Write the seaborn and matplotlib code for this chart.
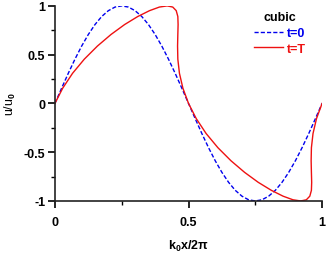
import numpy as np
import pandas as pd
import matplotlib
matplotlib.use("Agg")
import matplotlib.pyplot as plt
import seaborn as sns
from matplotlib.ticker import MultipleLocator

# initial profile t=0
x_t0 = [0, 0.025, 0.05, 0.075, 0.1, 0.125, 0.15, 0.175, 0.2, 0.225, 0.25,
        0.275, 0.3, 0.325, 0.35, 0.375, 0.4, 0.425, 0.45, 0.475, 0.5,
        0.525, 0.55, 0.575, 0.6, 0.625, 0.65, 0.675, 0.7, 0.725, 0.75,
        0.775, 0.8, 0.825, 0.85, 0.875, 0.9, 0.925, 0.95, 0.975, 1.0]
u_t0 = [0, 0.156, 0.309, 0.454, 0.588, 0.707, 0.809, 0.891, 0.951, 0.988, 1.0,
        0.988, 0.951, 0.891, 0.809, 0.707, 0.588, 0.454, 0.309, 0.156, 0,
        -0.156, -0.309, -0.454, -0.588, -0.707, -0.809, -0.891, -0.951, -0.988, -1.0,
        -0.988, -0.951, -0.891, -0.809, -0.707, -0.588, -0.454, -0.309, -0.156, 0]

# steepened (overturned) profile t=T
x_tT = [0, 0.029, 0.066, 0.110, 0.159, 0.210, 0.261, 0.310, 0.354, 0.391, 0.420,
        0.441, 0.454, 0.460, 0.461, 0.460, 0.459, 0.460, 0.466, 0.479, 0.500,
        0.529, 0.566, 0.610, 0.659, 0.710, 0.761, 0.810, 0.854, 0.891, 0.920,
        0.941, 0.954, 0.960, 0.961, 0.960, 0.959, 0.960, 0.966, 0.979, 1.0]
u_tT = u_t0

x_ticks = [0, 0.5, 1]
x_tick_labels = ["0", "0.5", "1"]
y_ticks = [-1, -0.5, 0, 0.5, 1]
y_tick_labels = ["-1", "-0.5", "0", "0.5", "1"]

df0 = pd.DataFrame({"x": x_t0, "u": u_t0})
dfT = pd.DataFrame({"x": x_tT, "u": u_tT})

plt.rcParams["font.family"] = ["Liberation Sans", "DejaVu Sans"]
plt.rcParams["font.weight"] = "bold"
plt.rcParams["mathtext.fontset"] = "custom"
plt.rcParams["mathtext.rm"] = "Liberation Sans:bold"
plt.rcParams["mathtext.it"] = "Liberation Sans:bold"
plt.rcParams["mathtext.bf"] = "Liberation Sans:bold"
plt.rcParams["mathtext.default"] = "rm"

fig = plt.figure(figsize=(3.27, 2.55), dpi=100)
ax = fig.add_axes([0.168, 0.208, 0.817, 0.765])

sns.lineplot(data=df0, x="x", y="u", sort=False, estimator=None, ax=ax,
             color="#0000ee", linestyle=(0, (3, 1.5)), linewidth=1.0, label="t=0")
sns.lineplot(data=dfT, x="x", y="u", sort=False, estimator=None, ax=ax,
             color="#ee1111", linewidth=1.0, label="t=T")

ax.set_xlim(0, 1)
ax.set_ylim(-1, 1)
ax.set_xticks(x_ticks)
ax.set_xticklabels(x_tick_labels, fontsize=9, fontweight="bold")
ax.set_yticks(y_ticks)
ax.set_yticklabels(y_tick_labels, fontsize=9, fontweight="bold")
ax.xaxis.set_minor_locator(MultipleLocator(0.25))
ax.yaxis.set_minor_locator(MultipleLocator(0.25))
ax.tick_params(which="major", length=5, width=1.2, pad=6)
ax.tick_params(which="minor", length=3, width=1.0)
ax.tick_params(axis="y", which="major", pad=2)
for s in ["top", "right"]:
    ax.spines[s].set_visible(False)
for s in ["left", "bottom"]:
    ax.spines[s].set_linewidth(1.2)
    ax.spines[s].set_color("#222222")

ax.set_xlabel(r"k$_0$x/2$\pi$", fontsize=9, fontweight="bold", labelpad=7)
ax.set_ylabel(r"u/u$_0$", fontsize=9, fontweight="normal", labelpad=4)

leg = ax.legend(title="cubic", frameon=False, loc="upper right",
                bbox_to_anchor=(0.98, 1.03), handlelength=2.3, handletextpad=0.3,
                labelspacing=0.3, labelcolor="linecolor",
                prop={"size": 9, "weight": "bold"})
leg.get_title().set_fontsize(9)
leg.get_title().set_fontweight("bold")

fig.savefig("out.png", dpi=100)
